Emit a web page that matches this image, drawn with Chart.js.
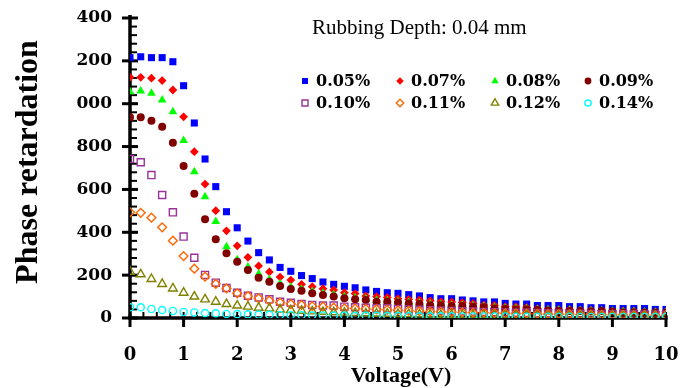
<!DOCTYPE html>
<html><head><meta charset="utf-8">
<script src="https://cdn.jsdelivr.net/npm/chart.js@4/dist/chart.umd.min.js"></script>
<style>html,body{margin:0;padding:0;background:#fff;}canvas{display:block;}</style>
</head><body>
<canvas id="c" width="680" height="388" style="width:680px;height:388px"></canvas>
<script>
// ---- data ----
const voltages = [0,0.2,0.4,0.6,0.8,1.0,1.2,1.4,1.6,1.8,2.0,2.2,2.4,2.6,2.8,3.0,3.2,3.4,3.6,3.8,4.0,4.2,4.4,4.6,4.8,5.0,5.2,5.4,5.6,5.8,6.0,6.2,6.4,6.6,6.8,7.0,7.2,7.4,7.6,7.8,8.0,8.2,8.4,8.6,8.8,9.0,9.2,9.4,9.6,9.8,10.0];
const seriesNames = ["0.05%","0.07%","0.08%","0.09%","0.10%","0.11%","0.12%","0.14%"];
const s005 = [1215,1219,1215,1215,1196,1084,910,742,613,496,421,359,305,271,236,218,198,184,168,157,148,141,131,124,118,115,109,103,95,90,90,84,80,75,75,68,65,65,58,58,58,53,53,48,48,44,44,44,44,40,40];
const s007 = [1123,1123,1119,1108,1064,939,776,625,501,407,337,283,243,215,191,177,157,146,137,131,118,114,103,100,96,90,87,84,80,76,75,72,68,61,59,53,53,50,44,40,40,40,37,37,35,33,33,33,30,30,30];
const s008 = [1056,1059,1049,1017,963,828,683,566,450,333,272,238,205,180,160,145,134,124,115,108,100,95,90,83,81,77,73,70,65,63,60,60,57,54,49,46,44,43,40,38,36,36,35,33,34,32,29,29,28,27,26];
const s009 = [937,937,921,893,818,709,580,461,367,302,263,224,188,169,149,135,127,115,107,100,92,88,84,76,76,72,68,65,59,59,56,56,53,50,44,42,40,40,37,35,33,33,33,30,33,30,26,26,26,24,24];
const s010 = [742,727,667,574,493,380,281,201,165,140,118,104,96,87,76,71,65,61,58,58,53,50,48,46,45,42,40,38,36,34,33,31,30,28,27,26,25,24,23,22,21,20,20,19,18,18,17,17,16,16,15];
const s011 = [493,491,468,423,361,289,230,193,159,138,115,102,92,81,72,65,61,55,53,48,45,44,42,40,38,36,34,32,30,29,28,26,25,24,23,22,21,20,19,18,18,17,16,16,15,14,14,13,13,12,12];
const s012 = [216,204,182,159,138,118,100,87,76,65,58,53,48,45,40,37,34,31,29,27,25,24,22,21,20,19,18,17,16,15,15,14,13,13,12,12,11,11,10,10,10,9,9,9,8,8,8,7,7,7,7];
const s014 = [50,50,42,37,33,28,26,23,22,19,18,17,16,15,14,13,13,12,12,11,11,10,10,10,9,9,9,8,8,8,8,7,7,7,7,7,6,6,6,6,6,6,5,5,5,5,5,5,5,5,5];
const xTickLabels = ["0","1","2","3","4","5","6","7","8","9","10"];
const yTickLabels = ["0","200","400","600","800","000","200","400"];
const chartTitle = "Rubbing Depth: 0.04 mm";
const xTitle = "Voltage(V)";
const yTitle = "Phase retardation";

// ---- styles ----
const allSeries = [s005,s007,s008,s009,s010,s011,s012,s014];
const colors = ["#0000FF","#FF0000","#00FF00","#800000","#993399","#FF6600","#808000","#00FFFF"];
const shapes = ["rect","rectRot","triangle","circle","rect","rectRot","triangle","circle"];
const filled = [true,true,true,true,false,false,false,false];
const radii = [5,4.4,5,4,5,4.4,5,3.6];

const datasets = allSeries.map((vals,i)=>({
  label: seriesNames[i],
  data: voltages.map((v,j)=>({x:v,y:vals[j]})),
  showLine:false,
  pointStyle: shapes[i],
  pointRadius: radii[i],
  pointHoverRadius: radii[i],
  pointBackgroundColor: filled[i] ? colors[i] : 'rgba(0,0,0,0)',
  pointBorderColor: colors[i],
  pointBorderWidth: filled[i] ? 0 : 1.4,
  order: allSeries.length - i
}));

function drawShape(ctx, shape, x, y, r, color, fill){
  ctx.save();
  ctx.beginPath();
  if (shape==='rect'){ const s=Math.SQRT1_2*r; ctx.rect(x-s,y-s,2*s,2*s); }
  else if (shape==='rectRot'){ ctx.moveTo(x-r,y); ctx.lineTo(x,y-r); ctx.lineTo(x+r,y); ctx.lineTo(x,y+r); ctx.closePath(); }
  else if (shape==='triangle'){
    for(let k=0;k<3;k++){ const a=-Math.PI/2+k*2*Math.PI/3; const px=x+Math.cos(a)*r, py=y+Math.sin(a)*r; if(k===0) ctx.moveTo(px,py); else ctx.lineTo(px,py); }
    ctx.closePath();
  } else { ctx.arc(x,y,r,0,Math.PI*2); }
  if (fill){ ctx.fillStyle=color; ctx.fill(); }
  else { ctx.strokeStyle=color; ctx.lineWidth=1.4; ctx.stroke(); }
  ctx.restore();
}

const decorPlugin = {
  id:'decor',
  beforeDatasetsDraw(chart){
    const {ctx, scales:{x,y}} = chart;
    const x0=x.getPixelForValue(0), x1=x.getPixelForValue(10);
    const y0=y.getPixelForValue(0), y1=y.getPixelForValue(1400);
    const ln=(a,b,c,d)=>{ctx.beginPath();ctx.moveTo(a,b);ctx.lineTo(c,d);ctx.stroke();};
    ctx.save(); ctx.strokeStyle='#000'; ctx.lineCap='butt';
    ctx.lineWidth=2;
    for(let v=0; v<=1400; v+=40){ const py=y.getPixelForValue(v); ln(x0,py,x0+7,py); }
    for(let v=0; v<=10.001; v+=0.25){ const px=x.getPixelForValue(v); ln(px,y0,px,y0-6); }
    ctx.lineWidth=3;
    for(let v=0; v<=1400; v+=200){ const py=y.getPixelForValue(v); ln(x0-8,py,x0+8,py); }
    for(let v=0; v<=10; v+=1){ const px=x.getPixelForValue(v); ln(px,y0-3,px,y0+9); }
    ctx.lineWidth=3.5;
    ln(x0,y1-3,x0,y0+1.5);
    ln(x0-1.5,y0,x1+1.5,y0);
    ctx.restore();
  },
  afterDraw(chart){
    const {ctx, scales:{x}} = chart;
    ctx.save();
    ctx.fillStyle='#000';
    ctx.font='21px "Liberation Serif", "Times New Roman", serif';
    ctx.textAlign='left'; ctx.textBaseline='alphabetic';
    ctx.fillText(chartTitle, 312, 34);
    ctx.font='bold 22px "Liberation Serif", "Times New Roman", serif';
    ctx.textAlign='center';
    ctx.fillText(xTitle, 401, 382);
    ctx.save();
    ctx.translate(37,162); ctx.rotate(-Math.PI/2);
    ctx.font='bold 32px "Liberation Serif", "Times New Roman", serif';
    ctx.textAlign='center';
    ctx.fillText(yTitle,0,0);
    ctx.restore();
    const colX=[305,400,495,588], rowY=[81,103];
    ctx.font='bold 16px "DejaVu Serif", serif';
    ctx.textAlign='left'; ctx.textBaseline='middle';
    seriesNames.forEach((n,i)=>{
      const cx=colX[i%4], cy=rowY[Math.floor(i/4)];
      drawShape(ctx, shapes[i], cx, cy, radii[i]*0.85, colors[i], filled[i]);
      ctx.fillStyle='#000';
      ctx.fillText(n, cx+11, cy+1);
    });
    ctx.restore();
  }
};

const zeroPad = (s)=>{ s.paddingLeft=0; s.paddingRight=0; s.paddingTop=0; s.paddingBottom=0; };

new Chart(document.getElementById('c'), {
  type:'scatter',
  data:{datasets},
  options:{
    responsive:false, animation:false, events:[],
    layout:{padding:{left:0,right:14,top:18,bottom:0}},
    plugins:{legend:{display:false}, tooltip:{enabled:false}, title:{display:false}},
    scales:{
      x:{type:'linear', min:0, max:10,
         grid:{display:false, drawTicks:false}, border:{display:false},
         ticks:{stepSize:1, padding:27, color:'#000', font:{family:'"DejaVu Serif", serif', weight:'bold', size:18},
                callback:(v)=>xTickLabels[Math.round(v)]},
         afterFit:(s)=>{s.height=70; zeroPad(s);}},
      y:{type:'linear', min:0, max:1400,
         grid:{display:false, drawTicks:false}, border:{display:false},
         ticks:{stepSize:200, padding:18, color:'#000', font:{family:'"DejaVu Serif", serif', weight:'bold', size:17},
                callback:(v)=>yTickLabels[Math.round(v/200)]},
         afterFit:(s)=>{s.width=130; zeroPad(s);}}
    }
  },
  plugins:[decorPlugin]
});
</script>
</body></html>
